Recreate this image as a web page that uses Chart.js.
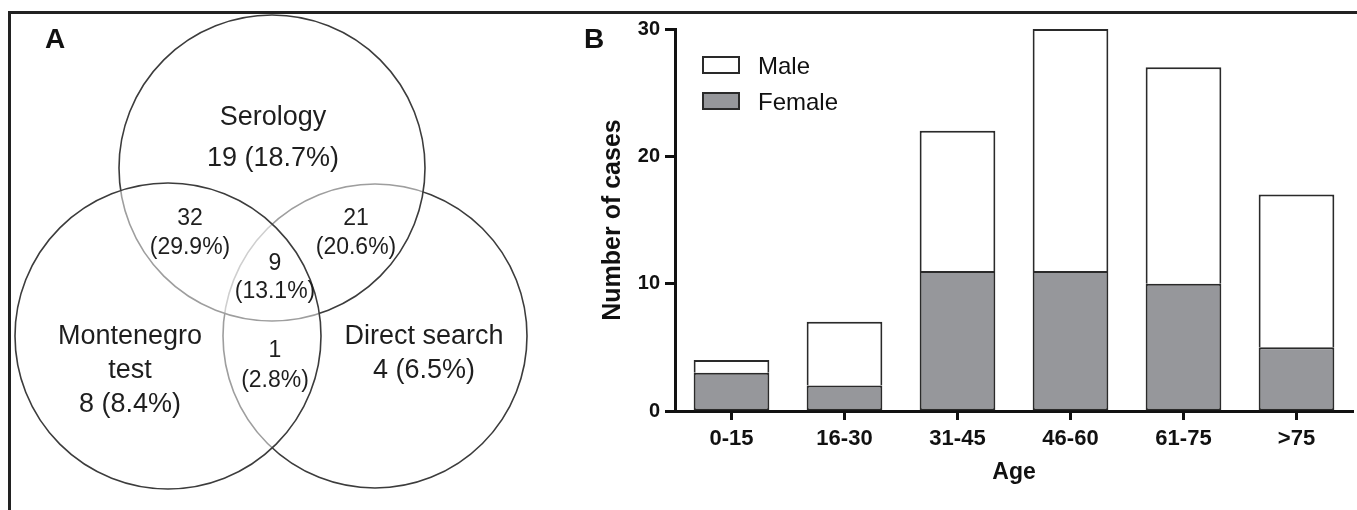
<!DOCTYPE html>
<html>
<head>
<meta charset="utf-8">
<script src="https://cdn.jsdelivr.net/npm/chart.js@4.4.0/dist/chart.umd.min.js"></script>
<style>
  html, body { margin: 0; padding: 0; background: #fff; }
  body { width: 1357px; height: 510px; position: relative; overflow: hidden; font-family: "Liberation Sans", Arial, sans-serif; }
  #frame { position: absolute; left: 8px; top: 11px; width: 1360px; height: 520px; border-top: 3px solid #222; border-left: 3px solid #222; }
  .panel { position: absolute; top: 22px; font-weight: bold; font-size: 28px; color: #111; line-height: 34px; }
  #venn { position: absolute; left: 0; top: 0; }
  #bars { position: absolute; left: 560px; top: 0; }
</style>
</head>
<body>
<div id="frame"></div>
<canvas id="venn" width="560" height="510"></canvas>
<canvas id="bars" width="797" height="510"></canvas>
<div class="panel" style="left:45px">A</div>
<div class="panel" style="left:584px">B</div>
<script>
// --- panel A: Venn diagram counts ---
const setNames = ["Serology", "Montenegro test", "Direct search"];
const setNameLines = [["Serology"], ["Montenegro", "test"], ["Direct search"]];
// regions: S only, S+M, S+D, S+M+D, M only, M+D, D only
const regionCounts = [19, 32, 21, 9, 8, 1, 4];
const regionPercents = ["18.7", "29.9", "20.6", "13.1", "8.4", "2.8", "6.5"];
const regionSet = [0, -1, -1, -1, 1, -1, 2]; // which set a single region belongs to

// --- panel B: cases by age ---
const ageGroups = ["0-15", "16-30", "31-45", "46-60", "61-75", ">75"];
const femaleCases = [3, 2, 11, 11, 10, 5];
const maleCases = [1, 5, 11, 19, 17, 12];

const FONT = '"Liberation Sans", Arial, sans-serif';
Chart.defaults.font.family = FONT;
Chart.defaults.color = "#111";

// layout of the venn (in its own pixel-like units)
const circleLayout = [
  { x: 375, y: 336, r: 152 }, // Direct search
  { x: 272, y: 168, r: 153 }, // Serology
  { x: 168, y: 336, r: 153 }, // Montenegro
];
const labelLayout = [
  { x: 273, y: 125, gap: 41 },
  { x: 190, y: 225, gap: 29 },
  { x: 356, y: 225, gap: 29 },
  { x: 275, y: 270, gap: 28 },
  { x: 130, y: 344, gap: 34 },
  { x: 275, y: 357, gap: 30 },
  { x: 424, y: 344, gap: 34 },
];

const vennText = {
  id: "vennText",
  afterDatasetsDraw(chart) {
    const ctx = chart.ctx;
    const sx = chart.scales.x, sy = chart.scales.y;
    ctx.save();
    ctx.fillStyle = "#1e1e1e";
    ctx.textAlign = "center";
    ctx.textBaseline = "alphabetic";
    regionCounts.forEach(function (n, i) {
      let lines, size;
      if (regionSet[i] >= 0) {
        lines = setNameLines[regionSet[i]].concat([n + " (" + regionPercents[i] + "%)"]);
        size = 27;
      } else {
        lines = [String(n), "(" + regionPercents[i] + "%)"];
        size = 23;
      }
      ctx.font = size + "px " + FONT;
      const p = labelLayout[i];
      lines.forEach(function (t, k) {
        ctx.fillText(t, sx.getPixelForValue(p.x), sy.getPixelForValue(p.y + k * p.gap));
      });
    });
    ctx.restore();
  },
};

new Chart(document.getElementById("venn"), {
  type: "bubble",
  data: {
    datasets: [
      {
        label: "sets",
        data: circleLayout.map(function (c) { return { x: c.x, y: c.y, r: c.r }; }),
        backgroundColor: "rgba(255,255,255,0.5)",
        borderColor: "#3c3c3c",
        borderWidth: 1.6,
        hoverRadius: 0,
        clip: false,
      },
    ],
  },
  options: {
    responsive: false,
    animation: false,
    events: [],
    layout: { autoPadding: false, padding: 0 },
    plugins: { legend: { display: false }, tooltip: { enabled: false } },
    scales: {
      x: { display: false, min: 0, max: 560 },
      y: { display: false, min: 0, max: 510, reverse: true },
    },
  },
  plugins: [vennText],
});

// legend drawn inside the plot area
const innerLegend = {
  id: "innerLegend",
  afterDraw(chart) {
    const ctx = chart.ctx;
    const ca = chart.chartArea;
    const items = chart.data.datasets.slice().reverse();
    ctx.save();
    items.forEach(function (ds, i) {
      const x = ca.left + 28, y = ca.top + 28 + i * 36;
      ctx.fillStyle = ds.backgroundColor;
      ctx.fillRect(x, y, 36, 16);
      ctx.lineWidth = 2;
      ctx.strokeStyle = ds.borderColor;
      ctx.strokeRect(x, y, 36, 16);
      ctx.fillStyle = "#111";
      ctx.font = "24px " + FONT;
      ctx.textBaseline = "alphabetic";
      ctx.fillText(ds.label, x + 55, y + 17);
    });
    ctx.restore();
  },
};

const axisGrid = function (len) {
  return { display: true, drawOnChartArea: false, offset: false, tickLength: len, tickWidth: 3, tickColor: "#111" };
};

new Chart(document.getElementById("bars"), {
  type: "bar",
  data: {
    labels: ageGroups,
    datasets: [
      { label: "Female", data: femaleCases, backgroundColor: "#96979b", borderColor: "#2a2a2a", borderWidth: 2, borderSkipped: false },
      { label: "Male", data: maleCases, backgroundColor: "#ffffff", borderColor: "#2a2a2a", borderWidth: 2, borderSkipped: "start" },
    ],
  },
  options: {
    responsive: false,
    animation: false,
    events: [],
    barPercentage: 0.67,
    categoryPercentage: 1,
    layout: { padding: { top: 29, right: 4, left: 0, bottom: 0 } },
    plugins: { legend: { display: false }, tooltip: { enabled: false } },
    scales: {
      x: {
        stacked: true,
        grid: axisGrid(9),
        border: { display: true, width: 3, color: "#111" },
        ticks: { color: "#111", padding: 6, font: { size: 22, weight: "bold" } },
        title: { display: true, text: "Age", color: "#111", font: { size: 23, weight: "bold" }, padding: { top: 0, bottom: 24 } },
        afterFit: function (s) { s.height = 99; },
      },
      y: {
        stacked: true,
        min: 0,
        max: 30,
        grid: axisGrid(10),
        border: { display: true, width: 3, color: "#111" },
        ticks: { stepSize: 10, color: "#111", padding: 5, font: { size: 20, weight: "bold" } },
        title: { display: true, text: "Number of cases", color: "#111", font: { size: 25, weight: "bold" }, padding: { top: 38, bottom: 0 } },
        afterFit: function (s) { s.width = 115; },
      },
    },
  },
  plugins: [innerLegend],
});
</script>
</body>
</html>
